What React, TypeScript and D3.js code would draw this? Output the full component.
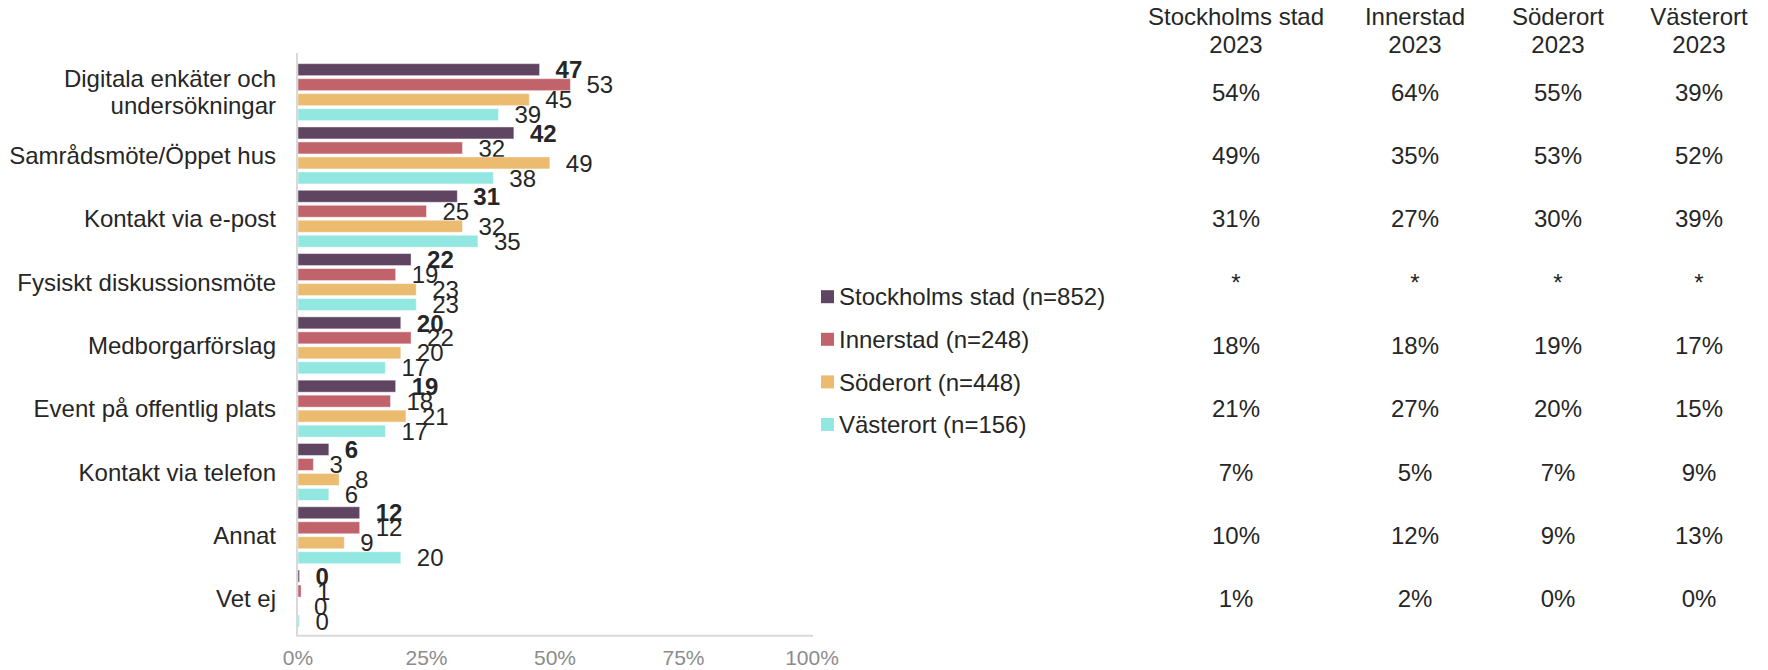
import { useEffect, useRef } from "react";
import * as d3 from "d3";

// Categories (line breaks as in the original)
const categories = [
  "Digitala enkäter och\nundersökningar",
  "Samrådsmöte/Öppet hus",
  "Kontakt via e-post",
  "Fysiskt diskussionsmöte",
  "Medborgarförslag",
  "Event på offentlig plats",
  "Kontakt via telefon",
  "Annat",
  "Vet ej",
];

const seriesNames = [
  "Stockholms stad (n=852)",
  "Innerstad (n=248)",
  "Söderort (n=448)",
  "Västerort (n=156)",
];

// Percent values per series (same order as categories)
const stockholmValues = [47, 42, 31, 22, 20, 19, 6, 12, 0.3];
const innerstadValues = [53, 32, 25, 19, 22, 18, 3, 12, 0.6];
const soderortValues = [45, 49, 32, 23, 20, 21, 8, 9, 0];
const vasterortValues = [39, 38, 35, 23, 17, 17, 6, 20, 0.3];

const seriesColors = ["#5f4562", "#c0636b", "#ebbb6f", "#93e7e1"];

const xTicks = [0, 25, 50, 75, 100];

// Table to the right
const tableHeaders = ["Stockholms stad", "Innerstad", "Söderort", "Västerort"];
const tableYear = "2023";
const tableStockholm = ["54%", "49%", "31%", "*", "18%", "21%", "7%", "10%", "1%"];
const tableInnerstad = ["64%", "35%", "27%", "*", "18%", "27%", "5%", "12%", "2%"];
const tableSoderort = ["55%", "53%", "30%", "*", "19%", "20%", "7%", "9%", "0%"];
const tableVasterort = ["39%", "52%", "39%", "*", "17%", "15%", "9%", "13%", "0%"];

export default function App() {
  const svgRef = useRef<SVGSVGElement>(null);

  useEffect(() => {
    if (!svgRef.current) return;
    const svg = d3.select(svgRef.current);
    svg.selectAll("*").remove();

    const width = 1768;
    const height = 670;
    const font = "'Liberation Sans', Arial, sans-serif";
    const textColor = "#262626";
    const fs = 24;

    svg.attr("width", width).attr("height", height).style("font-family", font);

    const seriesValues = [stockholmValues, innerstadValues, soderortValues, vasterortValues];

    const x = d3.scaleLinear().domain([0, 100]).range([298, 812]);

    const y = d3
      .scaleBand<number>()
      .domain(d3.range(categories.length))
      .range([60.5, 630.2])
      .paddingInner(0.1)
      .paddingOuter(0.05);

    const inner = d3
      .scaleBand<number>()
      .domain(d3.range(seriesNames.length))
      .range([0, y.bandwidth()])
      .paddingInner(0.2);

    // bars
    const groups = svg
      .append("g")
      .selectAll("g")
      .data(categories)
      .join("g")
      .attr("transform", (_, i) => `translate(0,${y(i)})`);

    groups.each(function (_, ci) {
      const g = d3.select(this);
      seriesValues.forEach((vals, si) => {
        const v = vals[ci];
        g.append("rect")
          .attr("x", x(0))
          .attr("y", inner(si)!)
          .attr("width", Math.max(0, x(v) - x(0)))
          .attr("height", inner.bandwidth())
          .attr("fill", seriesColors[si])
          .attr("stroke", "rgba(255,255,255,0.45)")
          .attr("stroke-width", 1);
        g.append("text")
          .attr("x", x(v) + 16)
          .attr("y", inner(si)! + inner.bandwidth() / 2)
          .attr("dy", "0.36em")
          .attr("font-size", fs)
          .attr("font-weight", si === 0 ? "bold" : "normal")
          .attr("fill", textColor)
          .text(d3.format(".0f")(v));
      });
    });

    // axis lines
    svg.append("line")
      .attr("x1", 297).attr("x2", 297)
      .attr("y1", 53).attr("y2", 636)
      .attr("stroke", "#d9d9d9").attr("stroke-width", 2);
    svg.append("line")
      .attr("x1", 296).attr("x2", 813)
      .attr("y1", 635.7).attr("y2", 635.7)
      .attr("stroke", "#d9d9d9").attr("stroke-width", 2);

    // x tick labels
    svg.append("g")
      .selectAll("text")
      .data(xTicks)
      .join("text")
      .attr("x", (d) => x(d))
      .attr("y", 657)
      .attr("dy", "0.36em")
      .attr("text-anchor", "middle")
      .attr("font-size", 21)
      .attr("fill", "#8c8c8c")
      .text((d) => d + "%");

    // category labels
    svg.append("g")
      .selectAll("text")
      .data(categories)
      .join("text")
      .attr("text-anchor", "end")
      .attr("font-size", fs)
      .attr("fill", textColor)
      .each(function (d, i) {
        const lines = d.split("\n");
        const cy = y(i)! + y.bandwidth() / 2;
        const lh = 26.7;
        const t = d3.select(this);
        lines.forEach((line, li) => {
          t.append("tspan")
            .attr("x", 276)
            .attr("y", cy + (li - (lines.length - 1) / 2) * lh)
            .attr("dy", "0.36em")
            .text(line);
        });
      });

    // legend
    const legend = svg.append("g");
    seriesNames.forEach((name, i) => {
      const cy = 296.7 + i * 42.6;
      legend.append("rect")
        .attr("x", 821).attr("y", cy - 6.5)
        .attr("width", 13).attr("height", 13)
        .attr("fill", seriesColors[i]);
      legend.append("text")
        .attr("x", 839).attr("y", cy)
        .attr("dy", "0.36em")
        .attr("font-size", fs)
        .attr("fill", textColor)
        .text(name);
    });

    // table
    const colX = [1236, 1415, 1558, 1699];
    const tableCols = [tableStockholm, tableInnerstad, tableSoderort, tableVasterort];
    const table = svg.append("g")
      .attr("text-anchor", "middle")
      .attr("font-size", fs)
      .attr("fill", textColor);
    tableHeaders.forEach((h, c) => {
      table.append("text").attr("x", colX[c]).attr("y", 25).text(h);
      table.append("text").attr("x", colX[c]).attr("y", 53.3).text(tableYear);
      tableCols[c].forEach((val, r) => {
        table.append("text")
          .attr("x", colX[c])
          .attr("y", y(r)! + y.bandwidth() / 2)
          .attr("dy", "0.36em")
          .text(val);
      });
    });
  }, []);

  return (
    <div style={{ position: "absolute", left: 0, top: 0, background: "#fff" }}>
      <svg ref={svgRef}></svg>
    </div>
  );
}
